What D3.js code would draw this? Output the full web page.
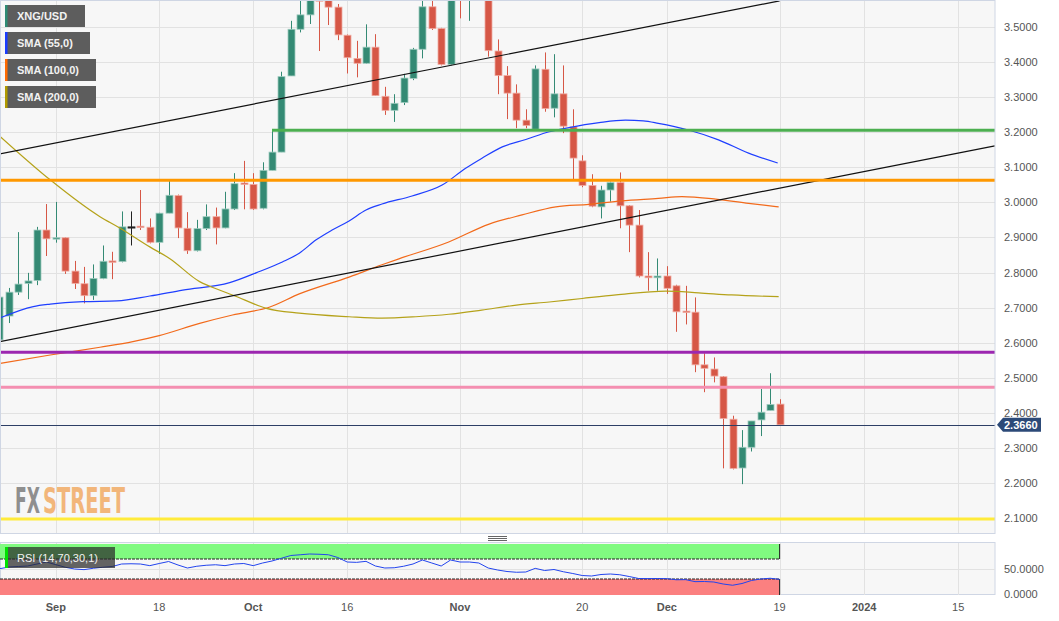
<!DOCTYPE html>
<html><head><meta charset="utf-8">
<script src="https://cdnjs.cloudflare.com/ajax/libs/d3/7.8.5/d3.min.js"></script>
<style>
body{margin:0;background:#fff;}
svg{display:block;font-family:"Liberation Sans",Arial,sans-serif;}
</style>
</head><body>
<svg id="c" width="1059" height="621"></svg>
<script>
// ---------- DATA ----------
const dates = [
 "2023-08-24","2023-08-25","2023-08-28","2023-08-29","2023-08-30","2023-08-31",
 "2023-09-01","2023-09-04","2023-09-05","2023-09-06","2023-09-07","2023-09-08",
 "2023-09-11","2023-09-12","2023-09-13","2023-09-14","2023-09-15",
 "2023-09-18","2023-09-19","2023-09-20","2023-09-21","2023-09-22",
 "2023-09-25","2023-09-26","2023-09-27","2023-09-28","2023-09-29",
 "2023-10-02","2023-10-03","2023-10-04","2023-10-05","2023-10-06",
 "2023-10-09","2023-10-10","2023-10-11","2023-10-12","2023-10-13",
 "2023-10-16","2023-10-17","2023-10-18","2023-10-19","2023-10-20",
 "2023-10-23","2023-10-24","2023-10-25","2023-10-26","2023-10-27",
 "2023-10-30","2023-10-31","2023-11-01","2023-11-02","2023-11-03",
 "2023-11-06","2023-11-07","2023-11-08","2023-11-09","2023-11-10",
 "2023-11-13","2023-11-14","2023-11-15","2023-11-16","2023-11-17",
 "2023-11-20","2023-11-21","2023-11-22","2023-11-23","2023-11-24",
 "2023-11-27","2023-11-28","2023-11-29","2023-11-30","2023-12-01",
 "2023-12-04","2023-12-05","2023-12-06","2023-12-07","2023-12-08",
 "2023-12-11","2023-12-12","2023-12-13","2023-12-14","2023-12-15",
 "2023-12-18","2023-12-19"];
const open = [
 2.608,2.676,2.744,2.769,2.777,2.921,
 2.895,2.899,2.804,2.768,2.734,2.783,
 2.833,2.831,2.930,2.932,2.929,
 2.886,2.969,3.019,2.926,2.862,
 2.925,2.959,2.927,2.981,3.055,
 3.051,2.983,3.091,3.143,3.360,
 3.493,3.534,3.610,3.600,3.556,
 3.476,3.410,3.396,3.442,3.302,
 3.262,3.284,3.353,3.436,3.557,
 3.495,3.393,3.620,3.585,3.630,
 3.610,3.431,3.361,3.311,3.234,
 3.208,3.379,3.268,3.309,3.215,
 3.118,3.048,2.987,3.035,3.056,
 2.990,2.935,2.790,2.785,2.790,
 2.762,2.690,2.687,2.537,2.525,
 2.503,2.382,2.243,2.302,2.380,
 2.407,2.425];
const high = [
 2.740,2.756,2.915,2.799,2.930,2.995,
 3.001,2.900,2.833,2.816,2.823,2.877,
 2.859,2.974,2.974,3.035,2.954,
 2.970,3.061,3.022,2.972,2.950,
 2.994,2.985,3.030,3.083,3.118,
 3.083,3.114,3.206,3.372,3.517,
 3.590,3.620,3.640,3.620,3.565,
 3.478,3.460,3.507,3.479,3.329,
 3.308,3.366,3.440,3.600,3.600,
 3.497,3.640,3.650,3.660,3.680,
 3.630,3.464,3.388,3.336,3.265,
 3.390,3.427,3.422,3.390,3.265,
 3.134,3.080,3.047,3.059,3.085,
 2.992,2.978,2.858,2.840,2.818,
 2.765,2.762,2.729,2.570,2.558,
 2.505,2.392,2.351,2.377,2.468,
 2.513,2.439];
const low = [
 2.600,2.656,2.736,2.724,2.764,2.847,
 2.885,2.796,2.753,2.712,2.722,2.781,
 2.781,2.829,2.877,2.921,2.883,
 2.853,2.969,2.898,2.853,2.860,
 2.921,2.880,2.926,2.978,2.980,
 2.978,2.980,3.091,3.143,3.360,
 3.484,3.508,3.431,3.505,3.462,
 3.367,3.356,3.395,3.303,3.249,
 3.229,3.277,3.348,3.410,3.491,
 3.390,3.390,3.524,3.517,3.590,
 3.415,3.308,3.237,3.211,3.211,
 3.208,3.258,3.242,3.197,3.064,
 3.043,2.986,2.954,3.002,2.926,
 2.858,2.786,2.748,2.748,2.739,
 2.631,2.652,2.516,2.459,2.487,
 2.242,2.239,2.197,2.290,2.334,
 2.407,2.366];
const close = [
 2.730,2.744,2.767,2.776,2.921,2.896,
 2.899,2.804,2.769,2.734,2.783,2.832,
 2.829,2.930,2.930,2.928,2.886,
 2.969,3.020,2.927,2.862,2.925,
 2.959,2.927,2.981,3.053,3.051,
 2.981,3.091,3.143,3.358,3.493,
 3.534,3.590,3.573,3.556,3.477,
 3.412,3.396,3.442,3.304,3.262,
 3.282,3.354,3.436,3.557,3.495,
 3.393,3.610,3.585,3.630,3.610,
 3.432,3.361,3.311,3.234,3.219,
 3.380,3.267,3.309,3.217,3.126,
 3.048,2.989,3.035,3.056,2.990,
 2.935,2.790,2.785,2.790,2.755,
 2.688,2.686,2.537,2.527,2.505,
 2.384,2.242,2.302,2.377,2.402,
 2.424,2.366];
const rsi = [
 50.5,54,55,56,60,64,
 58.7,53.5,50,48.7,51.5,53.5,
 55,60,60.5,60,56.7,
 61,65,58,52,55.5,
 57.5,58.5,56.7,60,61,
 56.7,62,66,71.5,77,
 78.5,80,79.5,78.5,73,
 64,63.3,65.3,56,52,
 52.5,55.5,60,68,62,
 56,68,64,64,62,
 52,48,45,43.5,44,
 51.3,47,49,44.5,41,
 37,36,39,40,38.5,
 35,31,30.8,31,30.7,
 28.5,28.7,24.7,25,24,
 20,17.5,21,27,30,
 31.5,29.3];
// moving averages: [bar position (trading days from 1 Sep), value]
const sma55 = [[-5.9,2.671],[-2.4,2.703],[-0.6,2.710],[2.9,2.717],[6.5,2.719],[10.0,2.733],[13.5,2.750],
 [18.5,2.771],[21.3,2.799],[24.1,2.830],[25.9,2.855],[27.7,2.893],[29.4,2.921],[31.2,2.947],[33.0,2.978],
 [34.7,2.995],[37.9,3.018],[41.1,3.049],[43.6,3.097],[45.3,3.125],[47.5,3.158],[50.0,3.179],[52.5,3.201],
 [54.6,3.213],[57.8,3.227],[60.6,3.234],[62.5,3.232],[64.1,3.225],[67.3,3.206],[70.5,3.178],[73.7,3.140],[76.8,3.112]];
const sma100 = [[-5.9,2.541],[-0.6,2.565],[4.7,2.587],[8.2,2.603],[11.0,2.620],[15.3,2.655],[18.8,2.679],
 [22.7,2.701],[25.9,2.739],[31.2,2.787],[34.7,2.822],[36.5,2.839],[41.8,2.887],[46.1,2.938],[49.6,2.964],
 [53.2,2.987],[56.7,2.994],[60.2,3.004],[64.1,3.011],[66.6,3.016],[70.2,3.009],[73.7,2.997],[76.9,2.987]];
const sma200 = [[-5.9,3.187],[-0.6,3.064],[4.7,2.959],[6.8,2.927],[10.0,2.873],[12.1,2.840],[15.3,2.774],
 [17.4,2.750],[18.8,2.736],[22.4,2.698],[25.9,2.684],[31.2,2.674],[34.7,2.670],[38.3,2.674],[41.8,2.681],
 [45.3,2.693],[49.0,2.707],[52.5,2.716],[56.0,2.726],[59.6,2.736],[64.9,2.747],[68.4,2.742],[71.9,2.736],[76.9,2.731]];
// trend lines: two anchor points each [bar position, price]
const trendUpper = [[-5.95,3.138],[77,3.574]];
const trendLower = [[-5.95,2.603],[99.9,3.161]];
// horizontal levels
const levels = [
 {v:3.205, from:23, color:"#4caf50"},
 {v:3.063, from:null, color:"#ff9800"},
 {v:2.573, from:null, color:"#9c27b0"},
 {v:2.473, from:null, color:"#f48fb1"},
 {v:2.098, from:null, color:"#ffeb3b"}];
const lastPrice = 2.366;
const yTicks = [2.1,2.2,2.3,2.4,2.5,2.6,2.7,2.8,2.9,3.0,3.1,3.2,3.3,3.4,3.5];
const rsiTicks = [0,50];
const xTickDates = ["2023-09-01","2023-09-18","2023-10-02","2023-10-16","2023-11-01","2023-11-20","2023-12-01","2023-12-19","2024-01-01","2024-01-15"];
const xTickLabels = ["Sep","18","Oct","16","Nov","20","Dec","19","2024","15"];
const legendItems = [
 {t:"XNG/USD", c:"#2e8b74", w:80},
 {t:"SMA (55,0)", c:"#1a3cff", w:85},
 {t:"SMA (100,0)", c:"#ff6a00", w:91},
 {t:"SMA (200,0)", c:"#b09a00", w:91}];

// ---------- HELPERS ----------
function tradingIndex(s){
  const d = Date.parse(s+"T00:00:00Z"), base = Date.UTC(2023,7,28); // Monday
  const n = Math.round((d-base)/864e5), wk = Math.floor(n/7), dow = n-7*wk;
  return wk*5 + Math.min(dow,4) - 4;
}
const candles = dates.map((s,k)=>({i:tradingIndex(s), o:open[k], h:high[k], l:low[k], c:close[k], r:rsi[k]}));

const W=1059, H=621;
const PX0=0, PX1=995, PY0=0, PY1=533, RY0=543, RY1=595;
const x = d3.scaleLinear().domain([0,96]).range([55.8, 55.8+96*9.4]);
const y = d3.scaleLinear().domain([2.1,3.5]).range([518.2, 26.8]);
const yr = d3.scaleLinear().domain([0,100]).range([594,544]);

const svg = d3.select("#c");
const defs = svg.append("defs");
defs.append("clipPath").attr("id","cm").append("rect").attr("x",PX0).attr("y",PY0).attr("width",PX1-PX0).attr("height",PY1-PY0);
defs.append("clipPath").attr("id","cr").append("rect").attr("x",PX0).attr("y",RY0).attr("width",PX1-PX0).attr("height",RY1-RY0);

// backgrounds
svg.append("rect").attr("width",W).attr("height",H).attr("fill","#fff");
svg.append("rect").attr("x",PX0).attr("y",PY0).attr("width",PX1-PX0).attr("height",PY1-PY0).attr("fill","#f7f7f7");
svg.append("rect").attr("x",PX0).attr("y",RY0).attr("width",PX1-PX0).attr("height",RY1-RY0).attr("fill","#f7f7f7");

const xTickPos = xTickDates.map(tradingIndex);
// grid main
const gm = svg.append("g").attr("clip-path","url(#cm)");
gm.selectAll("line.hg").data(yTicks).join("line")
  .attr("x1",PX0).attr("x2",PX1).attr("y1",d=>Math.round(y(d))+0.5).attr("y2",d=>Math.round(y(d))+0.5)
  .attr("stroke","#e2e2e2");
gm.selectAll("line.vg").data(xTickPos).join("line")
  .attr("x1",d=>Math.round(x(d))+0.5).attr("x2",d=>Math.round(x(d))+0.5).attr("y1",PY0).attr("y2",PY1)
  .attr("stroke","#e2e2e2");

// watermark: small font stretched vertically so natural widths do not collide
const wmFont = "'DejaVu Sans Condensed','Liberation Sans Narrow',sans-serif";
const wm = svg.append("g").attr("transform","translate(0,513) scale(1,1.714)");
wm.append("text").attr("x",15).attr("y",0).attr("font-size",21).attr("font-weight","bold")
  .attr("font-family",wmFont).attr("textLength",25).attr("lengthAdjust","spacingAndGlyphs")
  .attr("fill","#8f8f8f").text("FX");
wm.append("text").attr("x",43).attr("y",0).attr("font-size",21).attr("font-weight","bold")
  .attr("font-family",wmFont).attr("textLength",82).attr("lengthAdjust","spacingAndGlyphs")
  .attr("fill","#f2b67a").text("STREET");

// candles
const GREEN="#348a74", RED="#d65746";
const gc = gm.append("g");
const col = d => d.c===d.o ? "#222" : (d.c>d.o ? GREEN : RED);
const edge = d => d.c===d.o ? "#222" : (d.c>d.o ? "#9fcbbf" : "#f0aaa0");
gc.selectAll("line.w").data(candles).join("line")
  .attr("x1",d=>Math.round(x(d.i))+0.5).attr("x2",d=>Math.round(x(d.i))+0.5)
  .attr("y1",d=>y(d.h)).attr("y2",d=>y(d.l)).attr("stroke",col).attr("stroke-width",1);
gc.selectAll("rect.b").data(candles).join("rect")
  .attr("x",d=>Math.round(x(d.i))-3).attr("width",7)
  .attr("y",d=>Math.min(y(d.o),y(d.c)))
  .attr("height",d=>Math.max(1.2,Math.abs(y(d.o)-y(d.c))))
  .attr("fill",col).attr("stroke",edge).attr("stroke-width",0.8);

// SMAs
const line = d3.line().x(d=>x(d[0])).y(d=>y(d[1])).curve(d3.curveMonotoneX);
[[sma55,"#1f3fff"],[sma100,"#f26a1b"],[sma200,"#b5a21a"]].forEach(([arr,c])=>{
  gm.append("path").attr("d",line(arr)).attr("fill","none").attr("stroke",c).attr("stroke-width",1.2);
});
// trend lines
const tl = d3.line().x(d=>x(d[0])).y(d=>y(d[1]));
[trendUpper,trendLower].forEach(t=>{
  gm.append("path").attr("d",tl(t)).attr("fill","none").attr("stroke","#111").attr("stroke-width",1.2);
});
// levels
gm.selectAll("line.lv").data(levels).join("line")
  .attr("x1",d=>d.from===null?PX0:x(d.from)).attr("x2",PX1)
  .attr("y1",d=>y(d.v)).attr("y2",d=>y(d.v))
  .attr("stroke",d=>d.color).attr("stroke-width",3);
// last price line
gm.append("line").attr("x1",PX0).attr("x2",PX1).attr("y1",Math.round(y(lastPrice))+0.5).attr("y2",Math.round(y(lastPrice))+0.5)
  .attr("stroke","#2d3f66").attr("stroke-width",1);

// frames
svg.append("rect").attr("x",0.5).attr("y",0.5).attr("width",PX1-0.5).attr("height",PY1).attr("fill","none").attr("stroke","#cfd6e4");
svg.append("rect").attr("x",0.5).attr("y",RY0-0.5).attr("width",PX1-0.5).attr("height",RY1-RY0).attr("fill","none").attr("stroke","#cfd6e4");

// y axis labels
svg.append("g").selectAll("text").data(yTicks).join("text")
  .attr("x",1004).attr("y",d=>y(d)+4).attr("font-size",11).attr("fill","#555").text(d=>d.toFixed(4));
// price label
const py = y(lastPrice);
svg.append("path").attr("d",`M997,${py} L1003,${py-7} L1041,${py-7} L1041,${py+7} L1003,${py+7} Z`).attr("fill","#2c4a78");
svg.append("text").attr("x",1004).attr("y",py+4).attr("font-size",11).attr("font-weight","bold").attr("fill","#fff").text(lastPrice.toFixed(4));

// legend
const lg = svg.append("g");
legendItems.forEach((d,k)=>{
  const yy = 5 + k*27;
  lg.append("rect").attr("x",5).attr("y",yy).attr("width",d.w).attr("height",22).attr("fill","#5d5d5d");
  lg.append("rect").attr("x",5).attr("y",yy).attr("width",2.5).attr("height",22).attr("fill",d.c);
  lg.append("text").attr("x",17).attr("y",yy+15).attr("font-size",11).attr("font-weight","bold").attr("fill","#f2f2f2").text(d.t);
});

// grip
[536.5,538.5,540.5].forEach(v=>svg.append("line").attr("x1",488).attr("x2",507).attr("y1",v).attr("y2",v).attr("stroke","#666"));

// RSI panel
const gr = svg.append("g").attr("clip-path","url(#cr)");
gr.selectAll("line.vg").data(xTickPos).join("line")
  .attr("x1",d=>Math.round(x(d))+0.5).attr("x2",d=>Math.round(x(d))+0.5).attr("y1",RY0).attr("y2",RY1)
  .attr("stroke","#e2e2e2");
gr.append("line").attr("x1",PX0).attr("x2",PX1).attr("y1",Math.round(yr(50))+0.5).attr("y2",Math.round(yr(50))+0.5).attr("stroke","#e2e2e2");
const bandX1 = x(candles[candles.length-1].i);
gr.append("rect").attr("x",PX0).attr("y",yr(100)).attr("width",bandX1-PX0).attr("height",yr(70)-yr(100)).attr("fill","#80fa80");
gr.append("rect").attr("x",PX0).attr("y",yr(30)).attr("width",bandX1-PX0).attr("height",yr(0)-yr(30)+1).attr("fill","#fb8080");
gr.append("line").attr("x1",PX0).attr("x2",bandX1).attr("y1",yr(70)).attr("y2",yr(70)).attr("stroke","#222").attr("stroke-dasharray","3,1");
gr.append("line").attr("x1",PX0).attr("x2",bandX1).attr("y1",yr(30)).attr("y2",yr(30)).attr("stroke","#222").attr("stroke-dasharray","3,1");
gr.append("line").attr("x1",bandX1).attr("x2",bandX1).attr("y1",yr(100)).attr("y2",yr(70)).attr("stroke","#222");
gr.append("line").attr("x1",bandX1).attr("x2",bandX1).attr("y1",yr(30)).attr("y2",yr(0)+1).attr("stroke","#222");
gr.append("path").attr("d",d3.line().x(d=>x(d.i)).y(d=>yr(d.r))(candles)).attr("fill","none").attr("stroke","#2244ee").attr("stroke-width",1);
// RSI label
svg.append("rect").attr("x",5).attr("y",547).attr("width",110).attr("height",21).attr("fill","#2a2a2a").attr("opacity",0.72);
svg.append("rect").attr("x",5).attr("y",547).attr("width",3).attr("height",21).attr("fill","#00e000");
svg.append("text").attr("x",17).attr("y",562).attr("font-size",11).attr("fill","#f2f2f2")
  .attr("textLength",81).attr("lengthAdjust","spacingAndGlyphs").text("RSI (14,70,30,1)");
svg.append("g").selectAll("text").data(rsiTicks).join("text")
  .attr("x",1004).attr("y",d=>yr(d)+4).attr("font-size",11).attr("fill","#555").text(d=>d.toFixed(4));

// x axis labels
svg.append("g").selectAll("text").data(xTickPos).join("text")
  .attr("x",d=>x(d)).attr("y",611).attr("text-anchor","middle").attr("font-size",11)
  .attr("font-weight",(d,k)=>/^[A-Za-z]|2024/.test(xTickLabels[k])?"bold":"normal")
  .attr("fill","#555").text((d,k)=>xTickLabels[k]);
</script>
</body></html>
